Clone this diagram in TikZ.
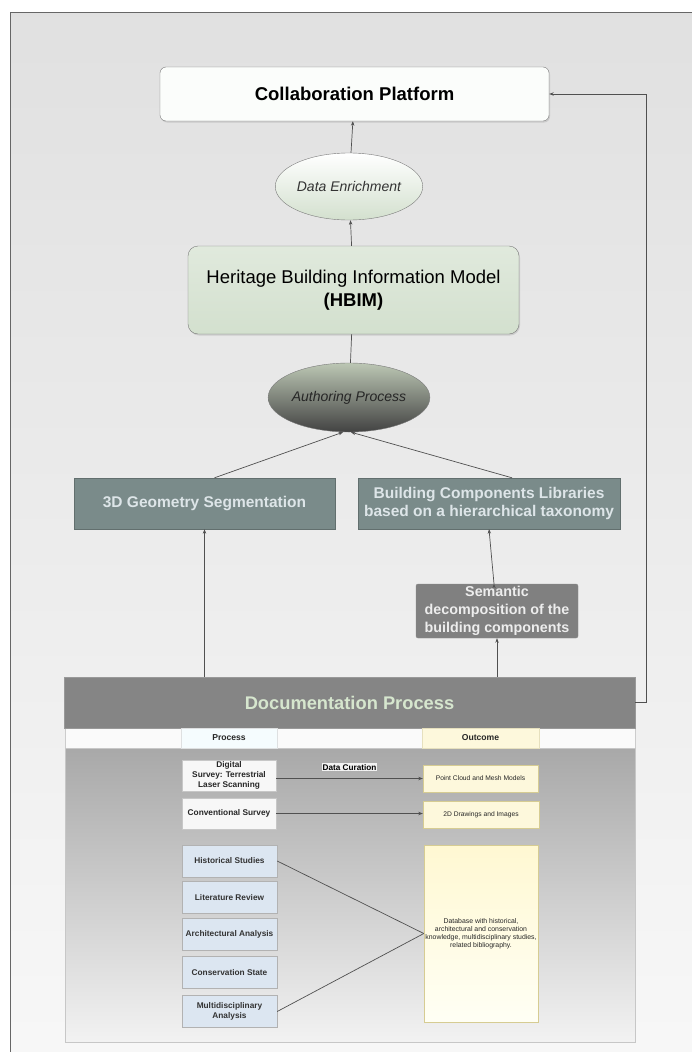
\documentclass[tikz,border=0pt]{standalone}
\usepackage{fontspec}
\setmainfont{Liberation Sans}
\usetikzlibrary{arrows.meta,shapes.geometric,shadows}

\definecolor{linegray}{HTML}{505050}
\definecolor{boxline}{HTML}{7A7A7A}
\definecolor{slate}{HTML}{7A8B8A}
\definecolor{slatetext}{HTML}{DDE5E8}
\definecolor{docgray}{HTML}{858585}
\definecolor{doctext}{HTML}{D6E6CE}
\definecolor{hbimgreen}{HTML}{D3E0CE}
\definecolor{authtop}{HTML}{BCC7B4}
\definecolor{authbot}{HTML}{424242}
\definecolor{procblue}{HTML}{DCE6F1}
\definecolor{outyellow}{HTML}{FDF8DC}
\definecolor{dbtop}{HTML}{FFF8D2}
\definecolor{outline}{HTML}{D6CC92}

\begin{document}
\begin{tikzpicture}[x=1pt,y=-1pt,
    >={Stealth[length=4.5pt,width=3.4pt]},
    line/.style={draw=linegray, line width=0.7pt},
    topbox/.style={rectangle, rounded corners=6pt, draw=boxline, fill=white!92!hbimgreen,
      minimum width=389pt, minimum height=54pt, inner sep=0pt,
      drop shadow={shadow xshift=1pt, shadow yshift=-1.5pt, opacity=.25},
      font=\bfseries\fontsize{18.5}{21}\selectfont},
    hbimbox/.style={rectangle, rounded corners=10pt, draw=boxline, top color=hbimgreen!70!white,
      bottom color=hbimgreen, minimum width=331pt, minimum height=88pt, inner sep=0pt,
      align=center, drop shadow={shadow xshift=1pt, shadow yshift=-1.5pt, opacity=.25},
      font=\fontsize{18.5}{23}\selectfont},
    enrich/.style={ellipse, draw=boxline, top color=white, bottom color=hbimgreen,
      minimum width=137pt, minimum height=67pt, inner sep=0pt,
      font=\itshape\fontsize{14}{16}\selectfont, text=black!80},
    author/.style={ellipse, draw=boxline, top color=authtop, bottom color=authbot,
      minimum width=137pt, minimum height=69pt, inner sep=0pt,
      font=\itshape\fontsize{14}{16}\selectfont, text=black!85},
    slatebox/.style={rectangle, draw=slate!80!black, fill=slate, text=slatetext,
      minimum width=261pt, minimum height=51pt, inner sep=0pt, align=center,
      font=\bfseries\fontsize{15.5}{18.5}\selectfont},
    grayboxs/.style={rectangle, rounded corners=2pt, draw=black!45, fill=black!50,
      text=black!7, minimum width=162pt, minimum height=54pt, inner sep=0pt,
      align=center, font=\bfseries\fontsize{14.3}{18}\selectfont},
    docbox/.style={rectangle, draw=black!40, fill=docgray, text=doctext,
      minimum width=571pt, minimum height=51pt, inner sep=0pt,
      font=\bfseries\fontsize{18.3}{21}\selectfont},
    head/.style={rectangle, minimum height=20pt, inner sep=0pt,
      font=\bfseries\fontsize{8.6}{10}\selectfont, text=black!85},
    survey/.style={rectangle, draw=black!22, fill=white!97!black, minimum width=94pt,
      minimum height=31pt, inner sep=0pt, align=center,
      font=\bfseries\fontsize{8.3}{10}\selectfont, text=black!85},
    study/.style={rectangle, draw=black!30, fill=procblue, minimum width=95pt,
      minimum height=32pt, inner sep=0pt, align=center,
      font=\bfseries\fontsize{8.3}{10.5}\selectfont, text=black!80},
    outcome/.style={rectangle, draw=outline, fill=outyellow, minimum width=115pt,
      minimum height=27pt, inner sep=0pt, align=center,
      font=\fontsize{6.7}{8}\selectfont, text=black!85}]

\useasboundingbox (0,0) rectangle (692,1052);

% background frame
\begin{scope}
  \clip (0,0) rectangle (692,1052);
  \fill[white] (0,0) rectangle (692,1052);
  \shade[top color=black!12, bottom color=black!3] (10,12) rectangle (700,1060);
  \draw[black!60, line width=0.8pt] (10,1060) -- (10,12) -- (700,12);
\end{scope}

% table under the documentation process
\fill[white!98!black, draw=black!20] (65,728) rectangle (635,748);
\shade[top color=black!34, bottom color=black!5] (65,748) rectangle (635,1042);
\draw[black!22] (65,748) rectangle (635,1042);

\node[topbox]  (collab) at (354.5,94)  {Collaboration Platform};
\node[enrich]  (enrich) at (349,186.5) {Data Enrichment};
\node[hbimbox] (hbim)   at (353.5,290) {Heritage Building Information Model\\\textbf{(HBIM)}};
\node[author]  (auth)   at (349,397.5) {Authoring Process};
\node[slatebox] (seg)   at (204.5,503.5) {3D Geometry Segmentation};
\node[slatebox, minimum width=262pt] (lib) at (489,503.5)
  {Building Components Libraries\\based on a hierarchical taxonomy};
\node[grayboxs] (sem)   at (497,611) {Semantic\\decomposition of the\\building components};
\node[docbox]  (doc)    at (349.5,702.5) {Documentation Process};

% process / outcome columns
\node[head, minimum width=96pt, fill=cyan!4, draw=cyan!12!black!15] (prochead) at (229,738) {Process};
\node[head, minimum width=117pt, fill=outyellow, draw=outline!60] (outhead) at (480.5,738) {Outcome};

\node[survey] (digital) at (229,775.5) {Digital\\Survey: Terrestrial\\Laser Scanning};
\node[survey] (conv)    at (229,813.5) {Conventional Survey};

\node[study] (hist)  at (229.5,861)    {Historical Studies};
\node[study] (lit)   at (229.5,897.5)  {Literature Review};
\node[study] (arch)  at (229.5,934)    {Architectural Analysis};
\node[study] (cons)  at (229.5,972.5)  {Conservation State};
\node[study] (multi) at (229.5,1011.5) {Multidisciplinary\\Analysis};

\node[outcome] (cloud)   at (480.5,778.5) {Point Cloud and Mesh Models};
\node[outcome, minimum width=116pt] (drawings) at (481,814.5) {2D Drawings and Images};
\node[outcome, draw=outline, top color=dbtop, bottom color=white!96!yellow,
  fill=none, minimum width=114pt, minimum height=177pt, font=\fontsize{6.9}{8}\selectfont] (db)
  at (481,933.5) {Database with historical,\\architectural and conservation\\knowledge, multidisciplinary studies,\\related bibliography.};

\path[line,->]
  (enrich) edge (collab)
  (hbim)   edge (enrich)
  ([xshift=10pt]seg.north) edge ([xshift=-6pt]auth.south)
  ([xshift=23pt]lib.north) edge ([xshift=2pt]auth.south)
  (doc.north -| seg.south) edge (seg.south)
  (doc.north -| sem.south) edge (sem.south)
  ([xshift=-3pt]sem.north) edge (lib.south);

\draw[line,->] (digital.east |- cloud) -- node[above=7pt, fill=white!95!black, inner sep=1pt,
    font=\bfseries\fontsize{8.2}{10}\selectfont] {Data Curation} (cloud.west);
\draw[line,->] (conv.east) -- (conv.east -| drawings.west);

\path[line]
  (hbim) edge (auth)
  (hist.east)  edge (db.west)
  (multi.east) edge (db.west);

\draw[line,->] (doc.east) -- ++(11,0) |- (collab.east);
\end{tikzpicture}
\end{document}
